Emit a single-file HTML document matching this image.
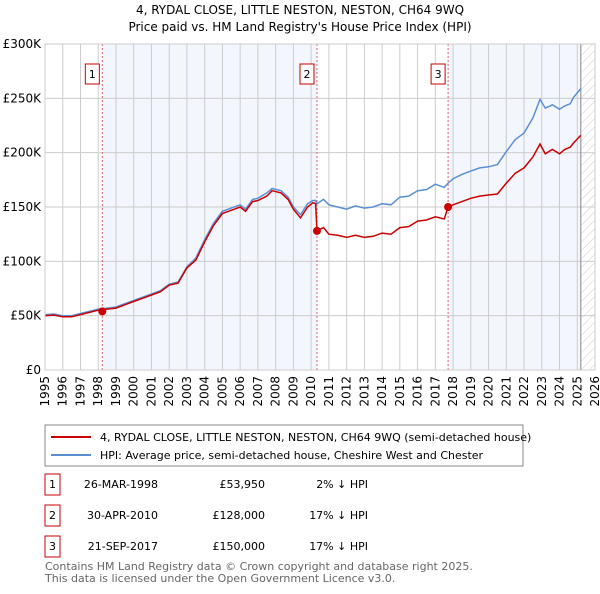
<!DOCTYPE html>
<html><head><meta charset="utf-8"><style>
body{margin:0;background:#fff;font-family:"DejaVu Sans","Liberation Sans",sans-serif;}
svg text{font-family:"DejaVu Sans","Liberation Sans",sans-serif;}
</style></head><body>
<svg width="600" height="590" viewBox="0 0 600 590" xmlns="http://www.w3.org/2000/svg">
<defs><pattern id="hatch" width="6" height="6" patternUnits="userSpaceOnUse" patternTransform="rotate(45)"><line x1="0" y1="0" x2="0" y2="6" stroke="#ccc" stroke-width="1"/></pattern></defs>
<text x="300" y="14" text-anchor="middle" font-size="12" fill="#000">4, RYDAL CLOSE, LITTLE NESTON, NESTON, CH64 9WQ</text>
<text x="300" y="31" text-anchor="middle" font-size="12" fill="#000">Price paid vs. HM Land Registry's House Price Index (HPI)</text>
<g id="plot"></g>
<g>
<rect x="45" y="425" width="478" height="41" fill="#fff" stroke="#888"/>
<line x1="51" y1="437" x2="91" y2="437" stroke="#cc0000" stroke-width="2"/>
<text x="100" y="441" font-size="11">4, RYDAL CLOSE, LITTLE NESTON, NESTON, CH64 9WQ (semi-detached house)</text>
<line x1="51" y1="455" x2="91" y2="455" stroke="#5b8fd4" stroke-width="2"/>
<text x="100" y="459" font-size="11">HPI: Average price, semi-detached house, Cheshire West and Chester</text>
</g>
<g id="table" font-size="11"></g>
<text x="45" y="570" font-size="11" fill="#666">Contains HM Land Registry data © Crown copyright and database right 2025.</text>
<text x="45" y="582" font-size="11" fill="#666">This data is licensed under the Open Government Licence v3.0.</text>
</svg>
<script>
const years=[1995,1995.5,1996,1996.5,1997,1997.5,1998,1998.5,1999,1999.5,2000,2000.5,2001,2001.5,2002,2002.5,2003,2003.5,2004,2004.5,2005,2005.5,2006,2006.3,2006.7,2007,2007.5,2007.8,2008.3,2008.7,2009,2009.4,2009.8,2010.1,2010.25,2010.33,2010.7,2011,2011.5,2012,2012.5,2013,2013.5,2014,2014.5,2015,2015.5,2016,2016.5,2017,2017.5,2017.72,2018,2018.5,2019,2019.5,2020,2020.5,2021,2021.5,2022,2022.5,2022.9,2023.2,2023.6,2024,2024.3,2024.6,2024.8,2025.2];
const hpiValues=[51,51.5,50,50,52,54,56,57,58,61,64,67,70,73,79,81,95,103,120,135,146,149,152,148,157,158,163,167,165,159,150,143,153,156,156,153,157,152,150,148,151,149,150,153,152,159,160,165,166,171,168,172,176,180,183,186,187,189,201,212,218,232,249,241,244,240,243,245,251,259];
const priceValues=[50,50.5,49,49,51,53,55,56,57,60,63,66,69,72,78,80,94,101,118,133,144,147,150,146,155,156,160,165,163,157,148,140,150,154,153,128,131,125,124,122,124,122,123,126,125,131,132,137,138,141,139,150,152,155,158,160,161,162,172,181,186,196,208,199,203,199,203,205,209,216];
const saleYears=[1998.23,2010.33,2017.72];
const salePrices=[53.95,128,150];
const saleLabels=["1","2","3"];
const saleDates=["26-MAR-1998","30-APR-2010","21-SEP-2017"];
const salePriceText=["£53,950","£128,000","£150,000"];
const saleDiff=["2% ↓ HPI","17% ↓ HPI","17% ↓ HPI"];
const yTicks=[0,50,100,150,200,250,300];
const yTickLabels=["£0","£50K","£100K","£150K","£200K","£250K","£300K"];
const xTicks=[];for(let y=1995;y<=2026;y++)xTicks.push(y);

const X0=45,X1=595,Y0=370,Y1=44,T0=1995,T1=2026;
const xs=t=>X0+(t-T0)/(T1-T0)*(X1-X0);
const ys=v=>Y0-v/300*(Y0-Y1);
const NS="http://www.w3.org/2000/svg";
function mk(tag,attrs,parent){const e=document.createElementNS(NS,tag);for(const k in attrs)e.setAttribute(k,attrs[k]);parent.appendChild(e);return e;}
const g=document.getElementById('plot');
let r=mk('rect',{x:X0,y:Y1,width:X1-X0,height:Y0-Y1,fill:'#fff'},g);


r=mk('rect',{x:xs(saleYears[0]),y:Y1,width:xs(saleYears[1])-xs(saleYears[0]),height:Y0-Y1,fill:'#f3f6fd'},g);


r=mk('rect',{x:xs(saleYears[2]),y:Y1,width:xs(2025.2)-xs(saleYears[2]),height:Y0-Y1,fill:'#f3f6fd'},g);


r=mk('rect',{x:xs(2025.2),y:Y1,width:X1-xs(2025.2),height:Y0-Y1,fill:'url(#hatch)'},g);


xTicks.forEach(t=>{
 let l=mk('line',{x1:xs(t),x2:xs(t),y1:Y1,y2:Y0,stroke:'#ccc','stroke-width':1},g);
 
 
 let tx=mk('text',{x:0,y:0,'font-size':12,'text-anchor':'end',transform:`translate(${xs(t)+4},${Y0+6}) rotate(-90)`},g);
 tx.textContent=t;
 
 
});
yTicks.forEach((v,i)=>{
 let l=mk('line',{x1:X0,x2:X1,y1:ys(v),y2:ys(v),stroke:'#ccc','stroke-width':1},g);
 
 
 let tx=mk('text',{x:X0-4,y:ys(v)+4,'font-size':12,'text-anchor':'end'},g);
 tx.textContent=yTickLabels[i];
 
 
});
r=mk('line',{x1:xs(2025.2),x2:xs(2025.2),y1:Y1,y2:Y0,stroke:'#888','stroke-width':1},g);


saleYears.forEach((t,i)=>{
 let l=mk('line',{x1:xs(t),x2:xs(t),y1:Y1,y2:Y0,stroke:'#e06666','stroke-width':1,'stroke-dasharray':'2,2'},g);
 
 
 let b=mk('rect',{x:xs(t)-17,y:64,width:14,height:20,fill:'#fff',stroke:'#cc0000'},g);
 
 
 let tx=mk('text',{x:xs(t)-10,y:78,'font-size':11,'text-anchor':'middle'},g);
 tx.textContent=saleLabels[i];
 
 
});
const pts=a=>years.map((t,i)=>xs(t).toFixed(1)+','+ys(a[i]).toFixed(1)).join(' ');
let p=mk('polyline',{points:pts(hpiValues),fill:'none',stroke:'#5b8fd4','stroke-width':1.5},g);


p=mk('polyline',{points:pts(priceValues),fill:'none',stroke:'#cc0000','stroke-width':1.5},g);


saleYears.forEach((t,i)=>{
 let c=mk('circle',{cx:xs(t),cy:ys(salePrices[i]),r:4,fill:'#cc0000'},g);
 
 
});
r=mk('rect',{x:X0,y:Y1,width:X1-X0,height:Y0-Y1,fill:'none',stroke:'#ccc'},g);


const tb=document.getElementById('table');
const rowY=[488,519,550];
saleLabels.forEach((s,i)=>{
 let b=mk('rect',{x:45,y:rowY[i]-14,width:15,height:21,fill:'#fff',stroke:'#cc0000'},tb);
 
 
 const cells=[[52.5,s,'middle'],[158,saleDates[i],'end'],[265,salePriceText[i],'end'],[368,saleDiff[i],'end']];
 cells.forEach(c=>{let tx=mk('text',{x:c[0],y:rowY[i],'text-anchor':c[2]},tb);tx.textContent=c[1];
 
 });
});
</script>
</body></html>
